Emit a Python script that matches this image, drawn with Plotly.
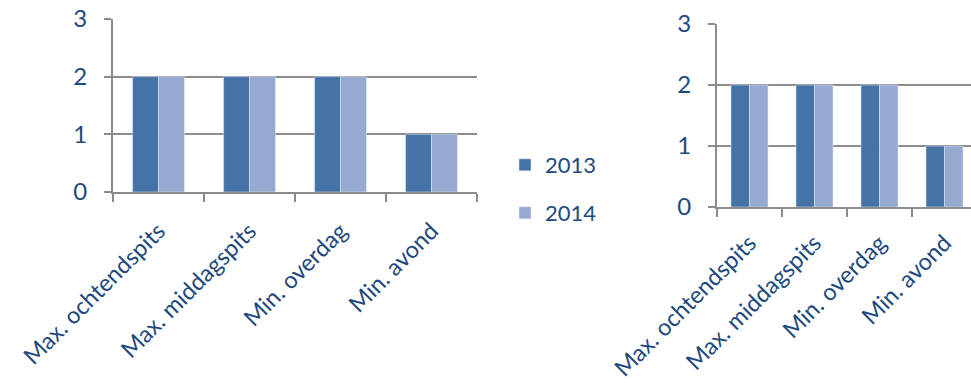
import plotly.graph_objects as go

# Data
categories = ["Max. ochtendspits", "Max. middagspits", "Min. overdag", "Min. avond"]
series_names = ["2013", "2014"]
left_2013 = [2, 2, 2, 1]
left_2014 = [2, 2, 2, 1]
right_2013 = [2, 2, 2, 1]
right_2014 = [2, 2, 2, 1]
y_ticks = [0, 1, 2, 3]

W, H = 971, 383
TEXT = "#1F497D"
GRID = "#8C8C8C"
C2013 = "#4673A7"
C2014 = "#95A9D1"
FONT = "Lato"

fig = go.Figure()

fig.add_trace(go.Bar(x=categories, y=left_2013, name=series_names[0], marker_color=C2013,
                     xaxis="x", yaxis="y", legend="legend"))
fig.add_trace(go.Bar(x=categories, y=left_2014, name=series_names[1], marker_color=C2014,
                     xaxis="x", yaxis="y", legend="legend2"))
fig.add_trace(go.Bar(x=categories, y=right_2013, name=series_names[0], marker_color=C2013,
                     xaxis="x2", yaxis="y2", showlegend=False))
fig.add_trace(go.Bar(x=categories, y=right_2014, name=series_names[1], marker_color=C2014,
                     xaxis="x2", yaxis="y2", showlegend=False))


def px_x(v):
    return v / W


def px_y(v):
    return 1 - v / H


yfont = dict(family=FONT, size=24, color=TEXT)
xfont = dict(family=FONT, size=23.5, color=TEXT)

yaxis_common = dict(
    range=[0, 3], tickvals=y_ticks, showgrid=True, gridcolor=GRID, gridwidth=2,
    showline=True, linecolor=GRID, linewidth=2, zeroline=False,
    ticks="outside", ticklen=7, tickwidth=2, tickcolor=GRID,
    tickfont=yfont, ticklabelstandoff=12, automargin=False,
)
xaxis_common = dict(
    type="category", tickson="boundaries", ticks="outside", ticklen=8, tickwidth=2,
    tickcolor=GRID, showline=True, linecolor=GRID, linewidth=2, showgrid=False,
    tickangle=-45, tickfont=xfont, automargin=False,
)

# right panel is 65 px per category and runs past the page edge
right_span = (W - 717) / 65.0

fig.update_layout(
    width=W, height=H,
    margin=dict(l=0, r=0, t=0, b=0, autoexpand=False),
    paper_bgcolor="white", plot_bgcolor="white",
    barmode="group", bargap=0.43, bargroupgap=0,
    xaxis=dict(domain=[px_x(113), px_x(477)], range=[-0.5, 3.5], anchor="y",
               ticklabelstandoff=14, **xaxis_common),
    yaxis=dict(domain=[px_y(192), px_y(19)], anchor="x", **yaxis_common),
    xaxis2=dict(domain=[px_x(717), 1], range=[-0.5, -0.5 + right_span], anchor="y2",
                ticklabelstandoff=11, **xaxis_common),
    yaxis2=dict(domain=[px_y(207), px_y(24)], anchor="x2", **yaxis_common),
    legend=dict(x=px_x(505), y=px_y(165), xanchor="left", yanchor="middle",
                font=dict(family=FONT, size=22, color=TEXT), bgcolor="rgba(0,0,0,0)"),
    legend2=dict(x=px_x(505), y=px_y(213), xanchor="left", yanchor="middle",
                 font=dict(family=FONT, size=22, color=TEXT), bgcolor="rgba(0,0,0,0)"),
)

fig.write_html("out.html")
